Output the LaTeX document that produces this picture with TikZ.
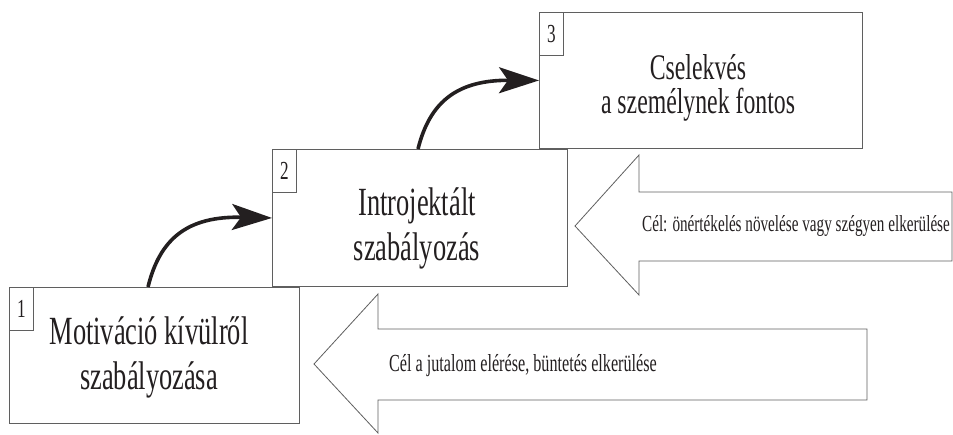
\documentclass[tikz,border=0pt]{standalone}
\usepackage{fontspec}
\setmainfont{Liberation Serif}[FakeStretch=0.66]
\usetikzlibrary{arrows.meta}
\definecolor{linegray}{RGB}{95,95,95}
\definecolor{inkdark}{RGB}{35,31,32}
\begin{document}
\begin{tikzpicture}[x=1pt,y=-1pt,
  box/.style={draw=linegray, line width=0.9pt, fill=white, inner sep=0pt, anchor=north west},
  boxtext/.style={inner sep=0pt, align=center, text=inkdark},
  numbox/.style={draw=linegray, line width=0.8pt, fill=white, inner sep=0pt, anchor=north west, minimum width=24pt, minimum height=43pt, text=inkdark, font=\fontsize{26}{26}\selectfont},
  blockarrow/.style={draw=linegray, line width=0.8pt, fill=white},
  curvarrow/.style={draw=inkdark, line width=3.6pt, -{Stealth[length=40pt,width=26pt,inset=9pt]}},
  goal/.style={text=inkdark, inner sep=0pt}
]
\useasboundingbox (0,0) rectangle (953,434);

% block arrows
\draw[blockarrow] (952,192) -- (639,192) -- (639,155) -- (575,226) -- (639,295) -- (639,261) -- (952,261) -- cycle;
\draw[blockarrow] (867,329) -- (378,329) -- (378,294) -- (314,364) -- (378,433) -- (378,400) -- (867,400) -- cycle;
\node[goal, font=\fontsize{23}{23}\selectfont] (g2) at (796,226) {Cél: önértékelés növelése vagy szégyen elkerülése};
\node[goal, font=\fontsize{24.5}{24.5}\selectfont] (g1) at (523,366) {Cél a jutalom elérése, büntetés elkerülése};

% boxes
\node[box, minimum width=323pt, minimum height=136pt] (b3) at (539,12) {};
\node[box, minimum width=295pt, minimum height=137pt] (b2) at (272,149) {};
\node[box, minimum width=290pt, minimum height=136pt] (b1) at (9,287) {};

\node[boxtext, font=\fontsize{36}{34}\selectfont] (t3) at (698,88) {Cselekvés\\a személynek fontos};
\node[boxtext, font=\fontsize{40}{45}\selectfont] (t2) at (417,228) {Introjektált\\szabályozás};
\node[boxtext, font=\fontsize{40}{45}\selectfont] (t1) at (149,357) {Motiváció kívülről\\szabályozása};

\node[numbox] (n3) at (b3.north west) {3};
\node[numbox] (n2) at (b2.north west) {2};
\node[numbox] (n1) at (b1.north west) {1};

% curved arrows
\coordinate (s1) at (148,287);
\coordinate (s2) at (418,149);
\draw[curvarrow] (s1) .. controls (160,238) and (188,216) .. (b2.west);
\draw[curvarrow] (s2) .. controls (430,101) and (458,80) .. (b3.west);
\end{tikzpicture}
\end{document}
